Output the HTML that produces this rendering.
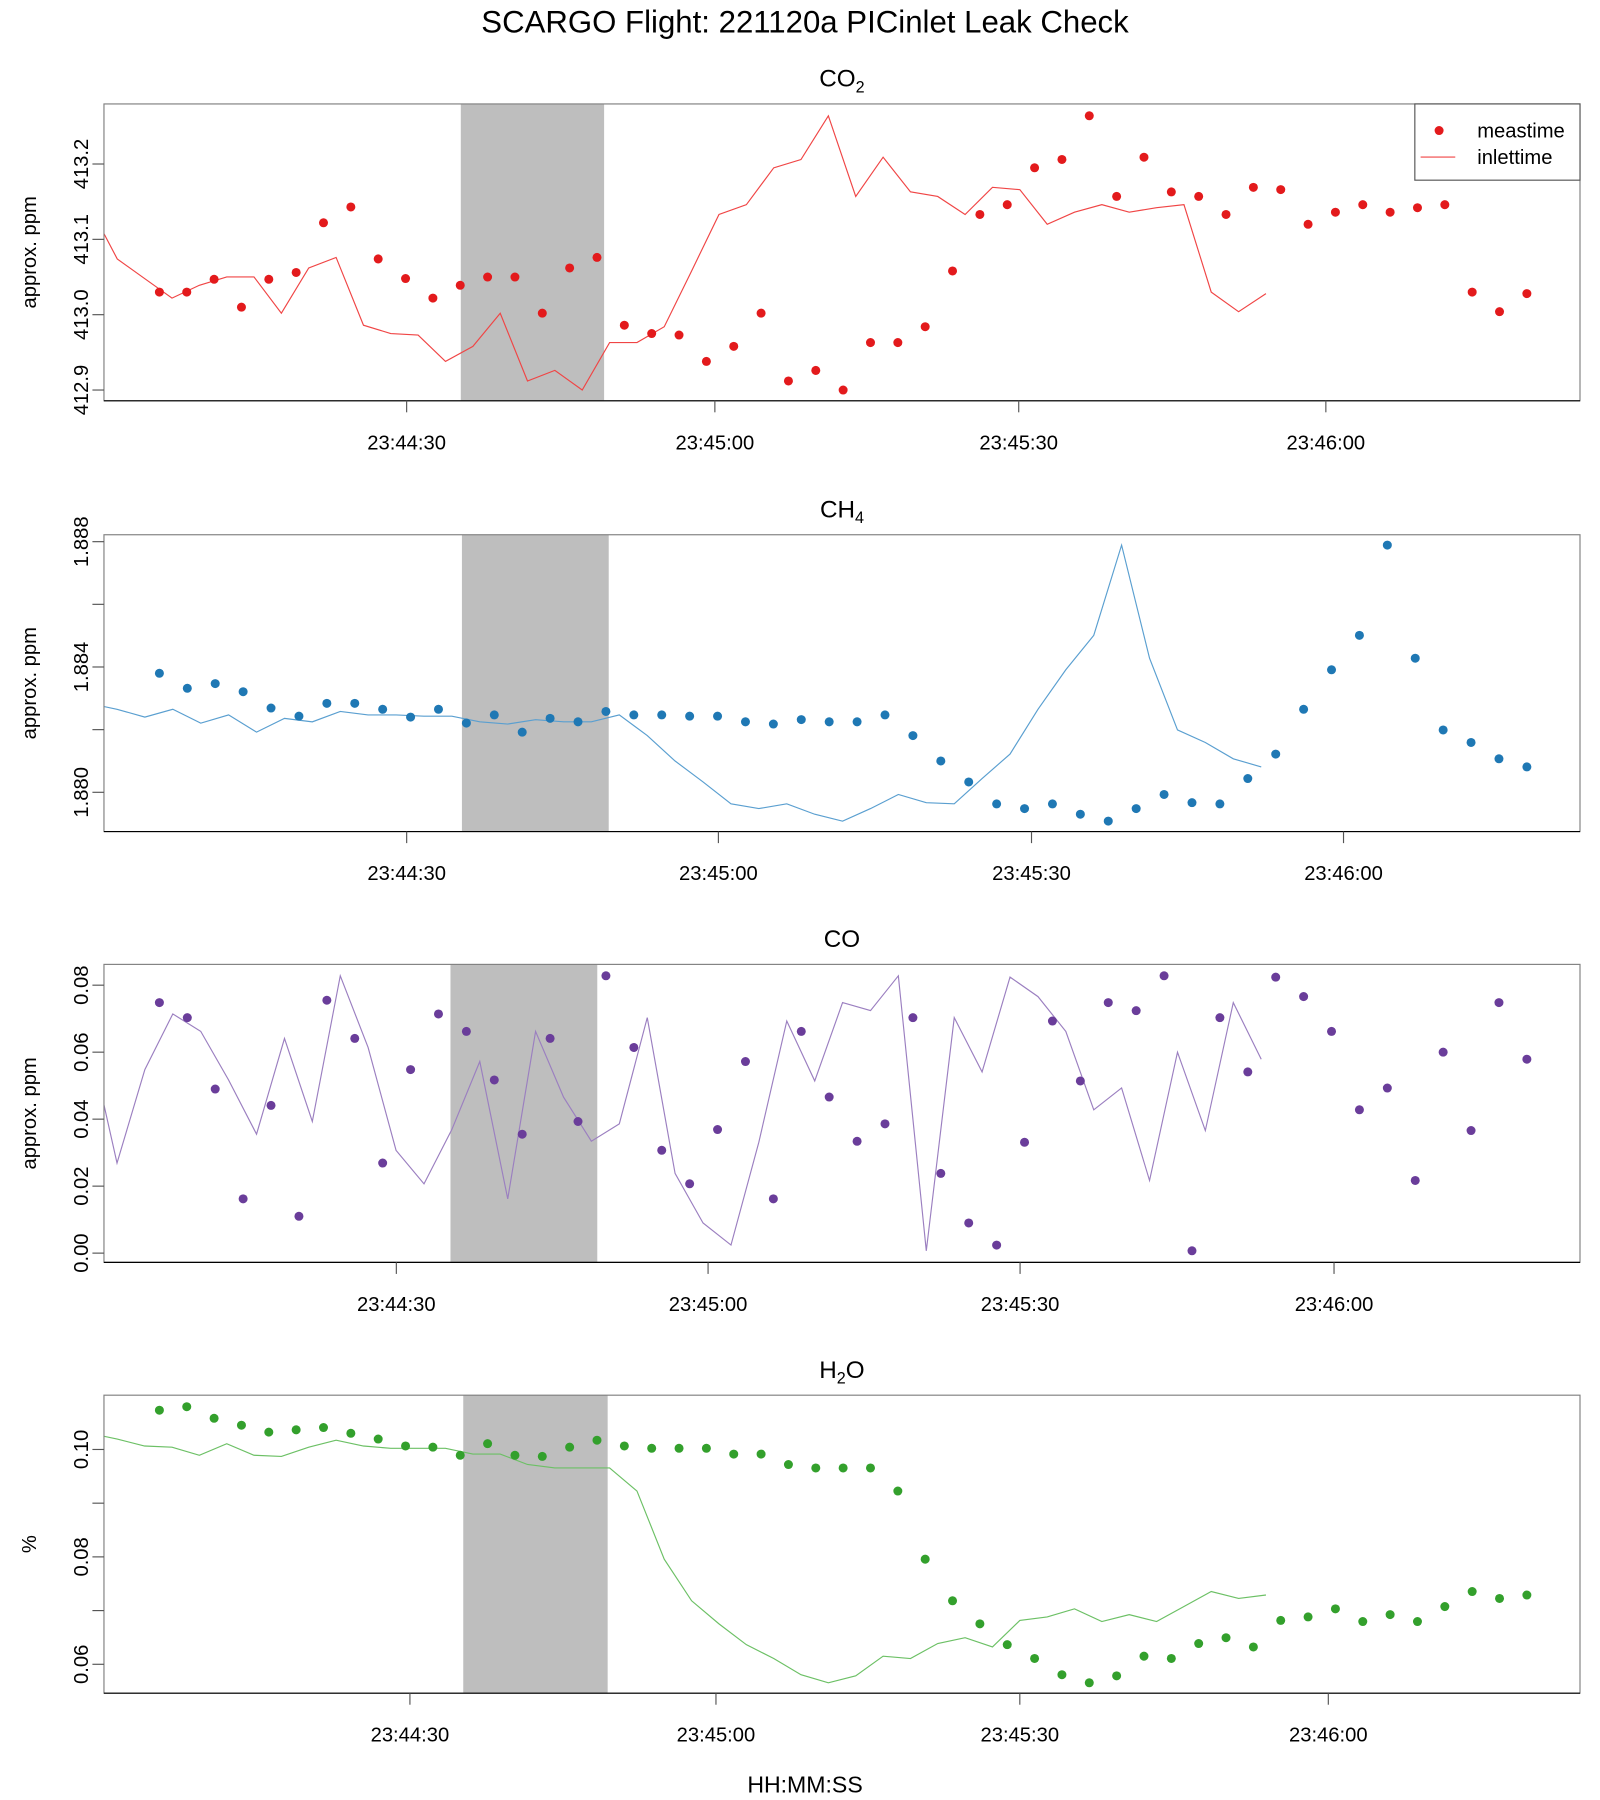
<!DOCTYPE html>
<html><head><meta charset="utf-8"><title>SCARGO Flight 221120a PICinlet Leak Check</title>
<style>
html,body{margin:0;padding:0;background:#fff;}
svg{display:block;font-family:"Liberation Sans",sans-serif;}
</style></head>
<body>
<svg id="chart" width="1600" height="1800" viewBox="0 0 1385.3 1558.5" xmlns="http://www.w3.org/2000/svg">
<text x="697" y="28" font-size="27" text-anchor="middle">SCARGO Flight: 221120a  PICinlet Leak Check</text>
<text x="697" y="1552" font-size="20" text-anchor="middle">HH:MM:SS</text>
</svg>
<script>
// ---- data ----
const co2Values = [413.030,413.030,413.047,413.010,413.047,413.056,413.122,413.143,413.074,413.048,413.022,413.039,413.050,413.050,413.002,413.062,413.076,412.986,412.975,412.973,412.938,412.958,413.002,412.912,412.926,412.900,412.963,412.963,412.984,413.058,413.133,413.146,413.195,413.206,413.264,413.157,413.209,413.163,413.157,413.133,413.169,413.166,413.120,413.136,413.146,413.136,413.142,413.146,413.030,413.004,413.028];
const ch4Values = [1.88380,1.88332,1.88347,1.88321,1.88269,1.88243,1.88284,1.88284,1.88265,1.88240,1.88265,1.88221,1.88247,1.88192,1.88236,1.88225,1.88258,1.88247,1.88247,1.88243,1.88243,1.88225,1.88218,1.88232,1.88225,1.88225,1.88247,1.88181,1.88100,1.88033,1.87963,1.87948,1.87963,1.87930,1.87908,1.87948,1.87993,1.87967,1.87963,1.88044,1.88122,1.88265,1.88391,1.88501,1.88789,1.88428,1.88199,1.88159,1.88107,1.88081];
const coValues = [0.0748,0.0703,0.0490,0.0162,0.0441,0.0110,0.0755,0.0641,0.0269,0.0548,0.0714,0.0662,0.0517,0.0355,0.0641,0.0393,0.0828,0.0614,0.0307,0.0207,0.0369,0.0572,0.0162,0.0662,0.0466,0.0334,0.0386,0.0703,0.0238,0.0090,0.0024,0.0331,0.0693,0.0514,0.0748,0.0724,0.0828,0.0007,0.0703,0.0541,0.0824,0.0766,0.0662,0.0428,0.0493,0.0217,0.0600,0.0366,0.0748,0.0579];
const h2oValues = [0.10731,0.10796,0.10581,0.10452,0.10323,0.10366,0.10409,0.10301,0.10194,0.10065,0.10043,0.09892,0.10108,0.09892,0.09871,0.10043,0.10172,0.10065,0.10022,0.10022,0.10022,0.09914,0.09914,0.09720,0.09656,0.09656,0.09656,0.09226,0.07957,0.07183,0.06753,0.06366,0.06108,0.05806,0.05656,0.05785,0.06151,0.06108,0.06387,0.06495,0.06323,0.06817,0.06882,0.07032,0.06796,0.06925,0.06796,0.07075,0.07355,0.07226,0.07290];
// x tick positions expressed in sample-index units, per panel
const xTickLabels = ["23:44:30","23:45:00","23:45:30","23:46:00"];
const co2XTicks = [9.04,20.31,31.42,42.65];
const ch4XTicks = [8.86,20.03,31.25,42.43];
const coXTicks  = [8.49,19.66,30.84,42.09];
const h2oXTicks = [9.16,20.35,31.46,42.74];
// inlet lag (samples) and leak-check shaded span (sample index)
const inletLag = [9.54,9.52,9.52,9.54];
const co2Shade = [11.02,16.26];
const ch4Shade = [10.84,16.10];
const coShade  = [10.43,15.69];
const h2oShade = [11.11,16.39];
// y ticks
const co2YTicks = [412.9,413.0,413.1,413.2];
const co2YLabels = ["412.9","413.0","413.1","413.2"];
const ch4YTicks = [1.880,1.882,1.884,1.886,1.888];
const ch4YLabels = ["1.880","","1.884","","1.888"];
const coYTicks = [0,0.02,0.04,0.06,0.08];
const coYLabels = ["0.00","0.02","0.04","0.06","0.08"];
const h2oYTicks = [0.06,0.07,0.08,0.09,0.10];
const h2oYLabels = ["0.06","","0.08","","0.10"];

const NS="http://www.w3.org/2000/svg";
const svg=document.getElementById('chart');
function mk(tag,attrs,parent){const e=document.createElementNS(NS,tag);for(const k in attrs)e.setAttribute(k,attrs[k]);(parent||svg).appendChild(e);return e;}

const X0=90,X1=1368,DX0=138,DX1=1322;
const FS=17.5;
const panels=[
 {key:'co2',title:'CO',sub:'2',vals:co2Values,xt:co2XTicks,shade:co2Shade,yt:co2YTicks,yl:co2YLabels,top:90,bot:347,yA:413.2,pA:142,yB:412.9,pB:337.7,color:'#e31a1c',line:'#f04545',ylab:'approx. ppm',lag:inletLag[0],legend:true},
 {key:'ch4',title:'CH',sub:'4',vals:ch4Values,xt:ch4XTicks,shade:ch4Shade,yt:ch4YTicks,yl:ch4YLabels,top:463,bot:720,yA:1.888,pA:469,yB:1.880,pB:686,color:'#1f78b4',line:'#5a9fd0',ylab:'approx. ppm',lag:inletLag[1]},
 {key:'co',title:'CO',sub:'',vals:coValues,xt:coXTicks,shade:coShade,yt:coYTicks,yl:coYLabels,top:835,bot:1093,yA:0.08,pA:853,yB:0,pB:1085,color:'#6a3d9a',line:'#9b7fc0',ylab:'approx. ppm',lag:inletLag[2]},
 {key:'h2o',title:'H',sub:'2',suf:'O',vals:h2oValues,xt:h2oXTicks,shade:h2oShade,yt:h2oYTicks,yl:h2oYLabels,top:1208,bot:1466,yA:0.10,pA:1255,yB:0.06,pB:1441,color:'#33a02c',line:'#6cc065',ylab:'%',lag:inletLag[3]}
];

panels.forEach((p,pi)=>{
  const n=p.vals.length;
  const xs=i=>DX0+(DX1-DX0)*i/(n-1);
  const ys=v=>p.pA+(v-p.yA)*(p.pB-p.pA)/(p.yB-p.yA);
  const g=mk('g',{});
  
  
  const cp=mk('clipPath',{id:'clip'+pi},g);
  mk('rect',{x:X0,y:p.top,width:X1-X0,height:p.bot-p.top},cp);
  const sh=mk('rect',{x:xs(p.shade[0]),y:p.top,width:xs(p.shade[1])-xs(p.shade[0]),height:p.bot-p.top,fill:'#bebebe'},g);
  
  
  const pts=p.vals.map((v,i)=>xs(i-p.lag).toFixed(1)+','+ys(v).toFixed(1)).join(' ');
  const ln=mk('polyline',{points:pts,fill:'none',stroke:p.line,'stroke-width':1,'clip-path':'url(#clip'+pi+')'},g);
  
  
  p.vals.forEach((v,i)=>{
    const c=mk('circle',{cx:xs(i),cy:ys(v),r:3.9,fill:p.color},g);
    
    
  });
  const bx=mk('rect',{x:X0,y:p.top,width:X1-X0,height:p.bot-p.top,fill:'none',stroke:'#808080','stroke-width':1},g);
  
  
  const ax=mk('line',{x1:X0,x2:X1,y1:p.bot,y2:p.bot,stroke:'#000','stroke-width':1},g);
  
  
  p.xt.forEach((t,k)=>{
    const x=xs(t);
    mk('line',{x1:x,x2:x,y1:p.bot,y2:p.bot+10,stroke:'#555'},g);
    const tx=mk('text',{x:x,y:p.bot+42,'font-size':FS,'text-anchor':'middle'},g);
    tx.textContent=xTickLabels[k];
    
    
  });
  p.yt.forEach((v,k)=>{
    const y=ys(v);
    mk('line',{x1:X0,x2:X0-10,y1:y,y2:y,stroke:'#555'},g);
    if(p.yl[k]){
      const tx=mk('text',{x:0,y:0,'font-size':FS,'text-anchor':'middle',transform:'translate(76,'+y.toFixed(1)+') rotate(-90)'},g);
      tx.textContent=p.yl[k];
      
      
    }
  });
  const yt=mk('text',{x:0,y:0,'font-size':FS,'text-anchor':'middle',transform:'translate(31,'+((p.top+p.bot)/2)+') rotate(-90)'},g);
  yt.textContent=p.ylab;
  
  
  const tt=mk('text',{x:729,y:p.top-15,'font-size':21,'text-anchor':'middle'},g);
  
  
  tt.appendChild(document.createTextNode(p.title));
  if(p.sub){const s=mk('tspan',{'font-size':14,dy:5},tt);s.textContent=p.sub;}
  if(p.suf){const s=mk('tspan',{dy:-5},tt);s.textContent=p.suf;}
  if(p.legend){
    const lg=mk('g',{},g);
    
    
    mk('rect',{x:1225,y:90,width:143,height:66,fill:'#fff',stroke:'#555'},lg);
    mk('circle',{cx:1246,cy:113,r:3.9,fill:p.color},lg);
    mk('line',{x1:1230,x2:1260,y1:136,y2:136,stroke:p.line},lg);
    const t1=mk('text',{x:1279,y:119,'font-size':FS},lg);t1.textContent='meastime';
    
    
    const t2=mk('text',{x:1279,y:142,'font-size':FS},lg);t2.textContent='inlettime';
    
    
  }
});
</script>
</body></html>
